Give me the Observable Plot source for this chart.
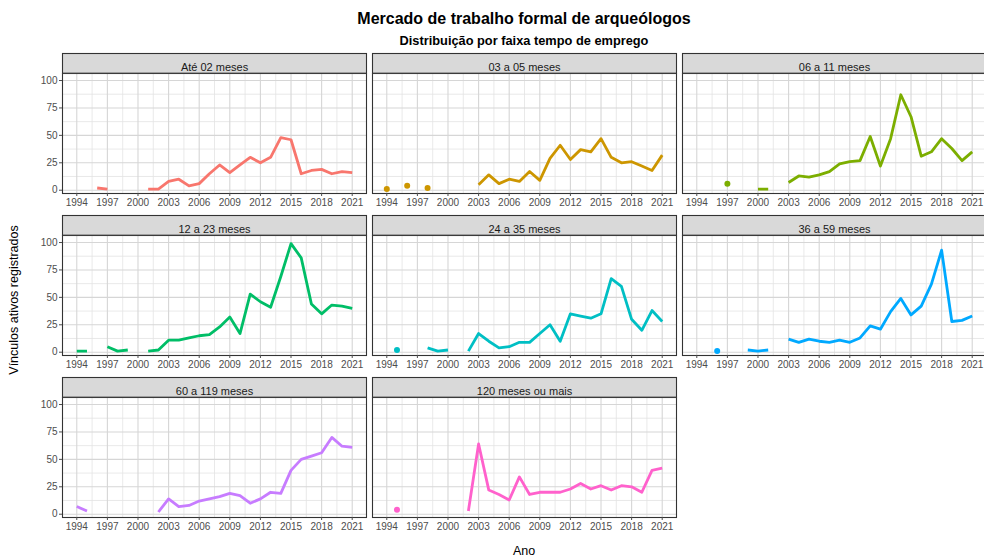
<!DOCTYPE html>
<html>
<head>
<meta charset="utf-8">
<script src="https://cdn.jsdelivr.net/npm/d3@7"></script>
<script src="https://cdn.jsdelivr.net/npm/@observablehq/plot@0.6"></script>
<style>
  body { margin: 0; background: #fff; font-family: "Liberation Sans", Arial, sans-serif; }
  #wrap { position: relative; width: 984px; height: 559px; overflow: hidden; background: #fff; }
  #title { position: absolute; left: 62px; width: 924px; top: 10px; line-height: 17px; text-align: center; font-weight: bold; font-size: 16px; color: #000; }
  #subtitle { position: absolute; left: 62px; width: 924px; top: 34px; line-height: 14px; text-align: center; font-weight: bold; font-size: 12.8px; color: #000; }
  #chart { position: absolute; left: 0; top: 50px; }
  #ytitle { position: absolute; left: 14px; top: 300px; transform: translate(-50%, -50%) rotate(-90deg); white-space: nowrap; font-size: 12.5px; color: #000; }
  #xtitle { position: absolute; left: 524px; top: 551px; transform: translate(-50%, -50%); font-size: 12.5px; line-height: 13px; color: #000; }
</style>
</head>
<body>
<div id="wrap">
  <div id="title">Mercado de trabalho formal de arqueólogos</div>
  <div id="subtitle">Distribuição por faixa tempo de emprego</div>
  <div id="chart"></div>
  <div id="ytitle">Vínculos ativos registrados</div>
  <div id="xtitle">Ano</div>
</div>
<script>
// ---- data ----
const years = [1994,1995,1996,1997,1998,1999,2000,2001,2002,2003,2004,2005,2006,2007,
               2008,2009,2010,2011,2012,2013,2014,2015,2016,2017,2018,2019,2020,2021];
const categories = ["Até 02 meses","03 a 05 meses","06 a 11 meses","12 a 23 meses",
                    "24 a 35 meses","36 a 59 meses","60 a 119 meses","120 meses ou mais"];
const ate02  = [null,null,2,1,null,null,null,1,1,8,10,4,6,15,23,16,23,30,25,30,48,46,15,18,19,15,17,16];
const m03a05 = [1,null,4,null,2,null,null,null,null,5,14,6,10,8,17,9,29,41,28,37,35,47,30,25,26,22,18,32];
const m06a11 = [null,null,null,6,null,null,1,1,null,7,13,12,14,17,24,26,27,49,22,47,87,67,31,35,47,38,27,35];
const m12a23 = [1,1,null,5,1,2,null,1,2,11,11,13,15,16,23,32,17,53,46,41,69,99,86,44,35,43,42,40];
const m24a35 = [null,2,null,null,4,1,2,null,1,17,10,4,5,9,9,17,25,10,35,33,31,35,67,60,30,20,38,28];
const m36a59 = [null,null,1,null,null,2,1,2,null,12,9,12,10,9,11,9,13,24,21,37,49,34,42,62,93,28,29,33];
const m60a119 = [7,3,null,null,null,null,null,null,2,14,7,8,12,14,16,19,17,10,14,20,19,40,50,53,56,70,62,61];
const m120 = [null,4,null,null,null,null,null,null,3,64,22,18,13,34,18,20,20,20,23,28,23,26,22,26,25,20,40,42];
const seriesValues = [ate02, m03a05, m06a11, m12a23, m24a35, m36a59, m60a119, m120];
const yearTicks = [1994,1997,2000,2003,2006,2009,2012,2015,2018,2021];
const valueTicks = [0,25,50,75,100];
const palette = ["#F8766D","#CD9600","#7CAE00","#00BE67","#00BFC4","#00A9FF","#C77CFF","#FF61CC"];

// ---- table built from the arrays ----
const rows = [];
categories.forEach((cat, i) => {
  const v = seriesValues[i];
  years.forEach((year, j) => {
    const def = v[j] != null;
    rows.push({
      cat, col: i % 3, row: Math.floor(i / 3), year,
      value: def ? v[j] : NaN,
      isolated: def && (j === 0 || v[j - 1] == null) && (j === years.length - 1 || v[j + 1] == null)
    });
  });
});
const panels = categories.map((cat, i) => ({cat, col: i % 3, row: Math.floor(i / 3)}));
const mid = (t) => t.slice(1).map((d, i) => (d + t[i]) / 2);
const xMinor = mid(yearTicks);
const yMinor = mid(valueTicks);

// ---- layout ----
const W = 984, H = 509;
const mTop = 23, panelH = 120.3, gapH = 41.7, mBottom = 41.7;
const mLeft = 62, mRight = -2, panelW = 304, gapW = 6;

const chart = Plot.plot({
  width: W, height: H,
  marginTop: mTop, marginBottom: mBottom, marginLeft: mLeft, marginRight: mRight,
  style: {fontFamily: "Liberation Sans, Arial, sans-serif", background: "white", overflow: "visible"},
  fx: {domain: [0, 1, 2], paddingInner: gapW / (panelW + gapW), paddingOuter: 0, axis: null},
  fy: {domain: [0, 1, 2], paddingInner: gapH / (panelH + gapH), paddingOuter: 0, axis: null},
  x: {domain: [1992.6, 2022.4], label: null},
  y: {domain: [-3, 106.4], label: null},
  color: {domain: categories, range: palette},
  marks: [
    Plot.gridX(xMinor, {stroke: "#e3e3e3", strokeOpacity: 1, strokeWidth: 0.8}),
    Plot.gridY(yMinor, {stroke: "#e3e3e3", strokeOpacity: 1, strokeWidth: 0.8}),
    Plot.gridX(yearTicks, {stroke: "#d6d6d6", strokeOpacity: 1, strokeWidth: 1.1}),
    Plot.gridY(valueTicks, {stroke: "#d6d6d6", strokeOpacity: 1, strokeWidth: 1.1}),
    Plot.line(rows, {x: "year", y: "value", z: "cat", fx: "col", fy: "row", stroke: "cat",
                     strokeWidth: 2.8, strokeLinecap: "butt", strokeLinejoin: "round"}),
    Plot.dot(rows.filter(d => d.isolated), {x: "year", y: "value", fx: "col", fy: "row", fill: "cat", r: 3}),
    Plot.frame({stroke: "#333333", strokeWidth: 1.1}),
    Plot.frame({fill: "#d9d9d9", stroke: "#333333", strokeWidth: 1.1, insetTop: -20, insetBottom: panelH}),
    Plot.text(panels, {fx: "col", fy: "row", text: "cat", frameAnchor: "top", dy: -10,
                       fontSize: 11, fill: "#1a1a1a"}),
    Plot.axisX({ticks: yearTicks, tickFormat: d => String(d), tickSize: 3, tickPadding: 2,
                fontSize: 10, color: "#4d4d4d", label: null, facetAnchor: null}),
    Plot.axisY({ticks: valueTicks, tickSize: 3, tickPadding: 2, fontSize: 10,
                color: "#4d4d4d", label: null})
  ]
});
document.getElementById("chart").appendChild(chart);
</script>
</body>
</html>
